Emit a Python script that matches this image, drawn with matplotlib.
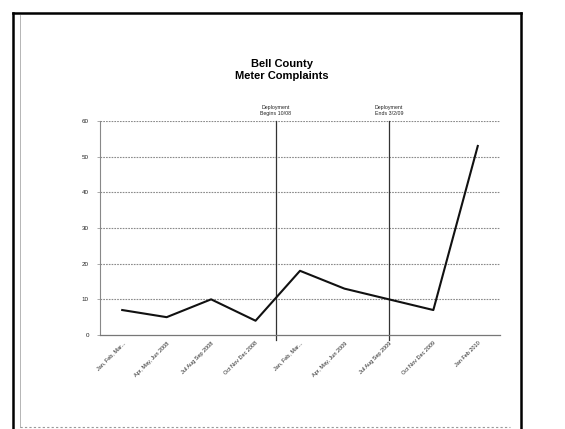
import matplotlib
matplotlib.use('Agg')
import matplotlib.pyplot as plt
from matplotlib.lines import Line2D

plt.rcParams['font.family'] = ['Liberation Sans', 'DejaVu Sans']

# data
quarters = ['Jan, Feb, Mar...', 'Apr, May, Jun 2008', 'Jul Aug Sep 2008',
            'Oct Nov Dec 2008', 'Jan, Feb, Mar...', 'Apr, May, Jun 2009',
            'Jul Aug Sep 2009', 'Oct Nov Dec 2009', 'Jan Feb 2010']
complaints = [7, 5, 10, 4, 18, 13, 10, 7, 53]

deploy_pos = [3.45, 6.0]
deploy_labels = ['Deployment\nBegins 10/08', 'Deployment\nEnds 3/2/09']

y_ticks = [0, 10, 20, 30, 40, 50, 60]

W, H = 565, 429
fig = plt.figure(figsize=(W / 100, H / 100), dpi=100)
ax = fig.add_axes([100 / W, 1 - 335 / H, 400 / W, 214 / H])

x = list(range(len(quarters)))
ax.plot(x, complaints, color='#111111', lw=1.5, zorder=3)

for yv in y_ticks[1:]:
    ax.axhline(yv, color='#8a8a8a', lw=0.8, ls=(0, (1.5, 1)), zorder=1)

for pos, lab in zip(deploy_pos, deploy_labels):
    ax.plot([pos, pos], [-1.5, 60], color='#333333', lw=0.9, clip_on=False, zorder=2)
    ax.text(pos, 61.3, lab, fontsize=3.8, ha='center', va='bottom',
            color='#222222', linespacing=1.3)

ax.set_xlim(-0.5, len(quarters) - 0.5)
ax.set_ylim(0, 60)
ax.set_yticks(y_ticks)
ax.set_yticklabels([str(v) for v in y_ticks], fontsize=4.5, color='#222222')
ax.set_xticks(x)
ax.set_xticklabels(quarters, rotation=45, ha='right', rotation_mode='anchor',
                   fontsize=4, color='#222222')
ax.tick_params(axis='x', length=0, pad=4)
ax.tick_params(axis='y', length=2, width=0.5, color='#888888', pad=6)

for s in ['top', 'right']:
    ax.spines[s].set_visible(False)
ax.spines['left'].set_color('#888888')
ax.spines['left'].set_linestyle((0, (1.5, 1)))
ax.spines['left'].set_linewidth(0.8)
ax.spines['bottom'].set_color('#777777')
ax.spines['bottom'].set_linewidth(0.9)

fig.text(282 / W, 1 - 70 / H, 'Bell County\nMeter Complaints', ha='center',
         va='center', fontsize=8, fontweight='bold', linespacing=1.2)

# page frame from the scan
def fline(x0, y0, x1, y1, **kw):
    fig.add_artist(Line2D([x0 / W, x1 / W], [1 - y0 / H, 1 - y1 / H], **kw))

fline(13, 13, 521, 13, color='black', lw=1.8)
fline(13, 13, 13, 429, color='black', lw=1.8)
fline(521, 13, 521, 429, color='black', lw=1.8)
fline(20, 15, 20, 427, color='#aaaaaa', lw=0.6)
fline(20, 427, 510, 427, color='#999999', lw=0.8, ls=(0, (2, 2)))

fig.savefig('out.png', dpi=100)
